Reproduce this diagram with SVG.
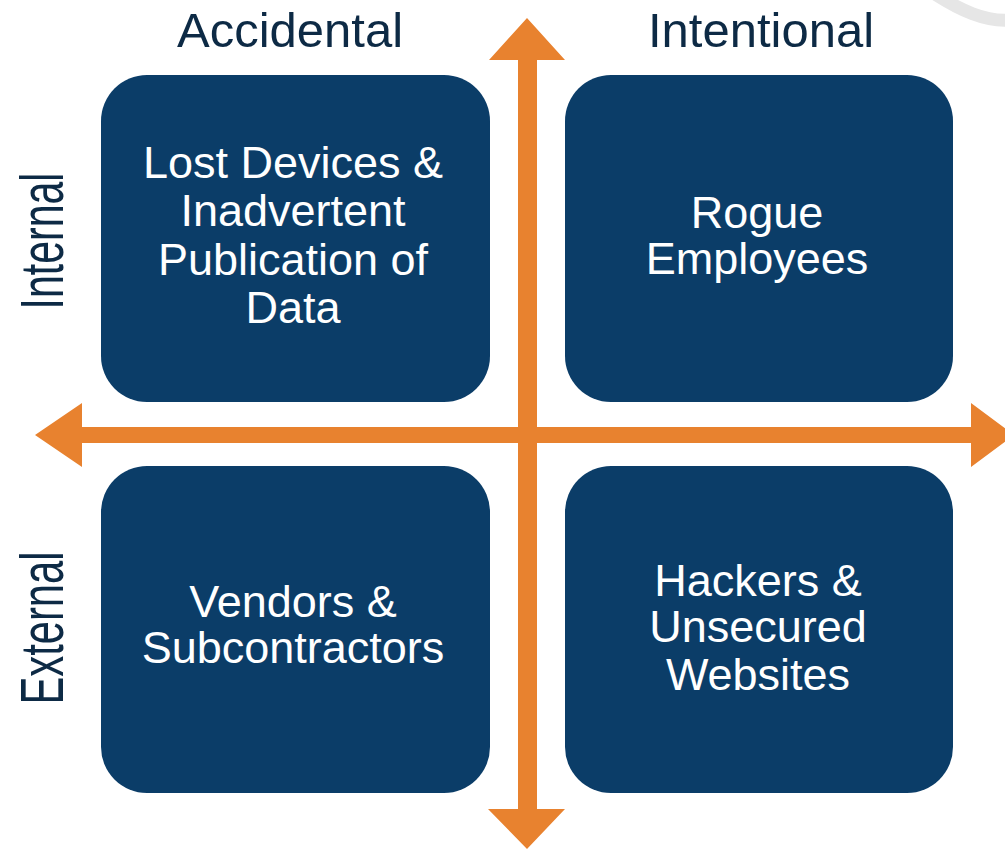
<svg xmlns="http://www.w3.org/2000/svg" width="1005" height="849" viewBox="0 0 1005 849">
  <style>
    .box { fill: #0B3D68; }
    .box-text { font-family: "Liberation Sans", Arial, sans-serif; font-size: 45px; fill: #FFFFFF; text-anchor: middle; }
    .axis-label { font-family: "Liberation Sans", Arial, sans-serif; font-size: 49px; fill: #0D2A45; text-anchor: middle; }
    .side-label { font-family: "Liberation Sans", Arial, sans-serif; font-size: 62px; fill: #0D2A45; text-anchor: middle; }
    .arrow { fill: #E8822F; }
  </style>

  <rect width="1005" height="849" fill="#FFFFFF"/>

  <!-- faint decorative stroke in the top-right corner -->
  <path d="M935,-6 C960,10 985,22 1010,20" fill="none" stroke="#E6E6E6" stroke-width="13" stroke-linecap="round"/>

  <!-- column and row headings -->
  <text class="axis-label" x="290" y="47">Accidental</text>
  <text class="axis-label" x="761" y="47">Intentional</text>
  <text class="side-label" transform="translate(63,241) rotate(-90)" textLength="137" lengthAdjust="spacingAndGlyphs">Internal</text>
  <text class="side-label" transform="translate(63,628) rotate(-90)" textLength="153" lengthAdjust="spacingAndGlyphs">External</text>

  <!-- quadrant nodes -->
  <g id="node-lost-devices">
    <rect class="box" x="101" y="75" width="389" height="327" rx="46" ry="46"/>
    <text class="box-text" x="293" y="178">Lost Devices &amp;</text>
    <text class="box-text" x="293" y="226">Inadvertent</text>
    <text class="box-text" x="293" y="275">Publication of</text>
    <text class="box-text" x="293" y="323">Data</text>
  </g>
  <g id="node-rogue-employees">
    <rect class="box" x="565" y="75" width="388" height="327" rx="46" ry="46"/>
    <text class="box-text" x="757" y="228">Rogue</text>
    <text class="box-text" x="757" y="274">Employees</text>
  </g>
  <g id="node-vendors">
    <rect class="box" x="101" y="466" width="389" height="327" rx="46" ry="46"/>
    <text class="box-text" x="293" y="617">Vendors &amp;</text>
    <text class="box-text" x="293" y="663">Subcontractors</text>
  </g>
  <g id="node-hackers">
    <rect class="box" x="565" y="466" width="388" height="327" rx="46" ry="46"/>
    <text class="box-text" x="758" y="596">Hackers &amp;</text>
    <text class="box-text" x="758" y="642">Unsecured</text>
    <text class="box-text" x="758" y="690">Websites</text>
  </g>

  <!-- axes -->
  <g id="connectors">
    <!-- vertical double arrow -->
    <polygon class="arrow" points="527,18 565,60 537,60 537,809 565,809 527,849 488,809 518,809 518,60 489,60"/>
    <!-- horizontal double arrow -->
    <polygon class="arrow" points="35,435 82,403 82,427 971,427 971,403 1014,435 971,467 971,443 82,443 82,467"/>
  </g>
</svg>
